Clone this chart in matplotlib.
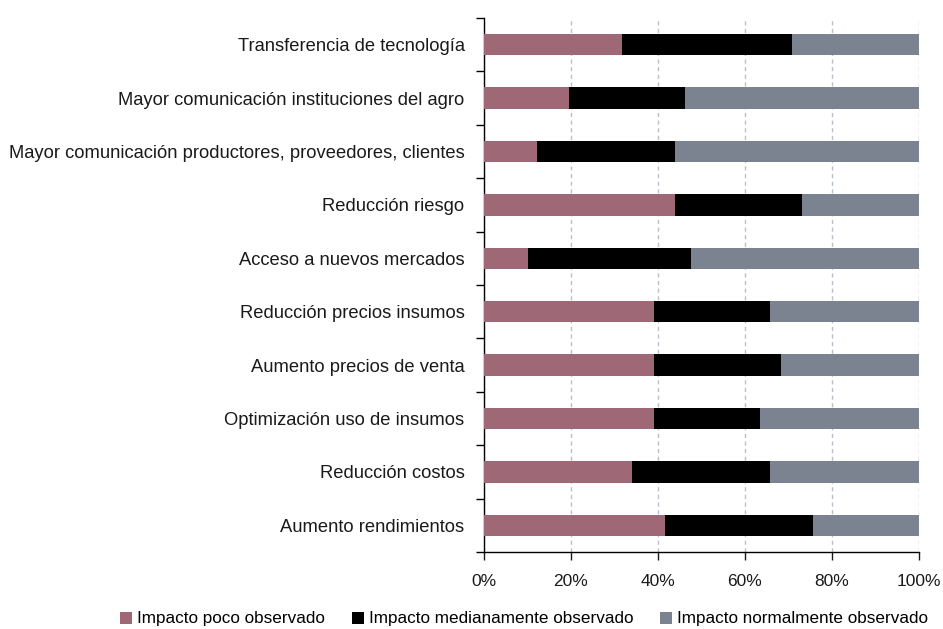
"""Impacto observado por tipo de beneficio (barras apiladas al 100%)."""

import matplotlib.pyplot as plt
import numpy as np
from matplotlib.ticker import FuncFormatter, MultipleLocator

categories = [
    "Transferencia de tecnología",
    "Mayor comunicación instituciones del agro",
    "Mayor comunicación productores, proveedores, clientes",
    "Reducción riesgo",
    "Acceso a nuevos mercados",
    "Reducción precios insumos",
    "Aumento precios de venta",
    "Optimización uso de insumos",
    "Reducción costos",
    "Aumento rendimientos",
]
poco = [31.7, 19.5, 12.2, 43.9, 10.0, 39.0, 39.0, 39.0, 34.1, 41.5]
medianamente = [39.0, 26.8, 31.7, 29.3, 37.5, 26.8, 29.3, 24.4, 31.7, 34.1]
normalmente = [29.3, 53.7, 56.1, 26.8, 52.5, 34.2, 31.7, 36.6, 34.2, 24.4]

series_labels = [
    "Impacto poco observado",
    "Impacto medianamente observado",
    "Impacto normalmente observado",
]
colors = ["#9E6877", "#000000", "#7B8290"]

plt.rcParams["font.family"] = ["Liberation Sans", "DejaVu Sans"]

fig = plt.figure(figsize=(9.43, 6.29), dpi=100)
ax = fig.add_axes([484 / 943, 1 - 552 / 629, 435 / 943, 534 / 629])

y = np.arange(len(categories))
left = np.zeros(len(categories))
for vals, lab, col in zip([poco, medianamente, normalmente], series_labels, colors):
    ax.barh(y, vals, left=left, height=0.4, color=col, label=lab, zorder=3)
    left += np.array(vals)

ax.set_xlim(0, 100)
ax.set_ylim(len(categories) - 0.5, -0.5)
ax.xaxis.set_major_locator(MultipleLocator(20))
ax.xaxis.set_major_formatter(FuncFormatter(lambda v, _: f"{v:.0f}%"))
ax.grid(axis="x", color="#B8C0CA", linestyle=(0, (3, 2.5)), linewidth=1, zorder=0)

ax.set_yticks(y)
ax.set_yticklabels(categories, fontsize=13.2, color="#1A1A1A")
ax.set_yticks(np.arange(len(categories) + 1) - 0.5, minor=True)
ax.tick_params(axis="y", which="major", length=0, pad=14)
ax.tick_params(axis="y", which="minor", length=6, width=1, direction="out")
ax.tick_params(axis="x", length=6, width=1, direction="out", labelsize=12.5, pad=10,
               colors="#1A1A1A")

for side in ("top", "right"):
    ax.spines[side].set_visible(False)
for side in ("left", "bottom"):
    ax.spines[side].set_linewidth(1)

fig.legend(
    loc="center",
    bbox_to_anchor=(524 / 943, 1 - 619 / 629),
    ncol=3,
    frameon=False,
    fontsize=12.3,
    handlelength=0.7,
    handleheight=0.7,
    handletextpad=0.3,
    columnspacing=1.55,
)

fig.savefig("out.png", dpi=100)
